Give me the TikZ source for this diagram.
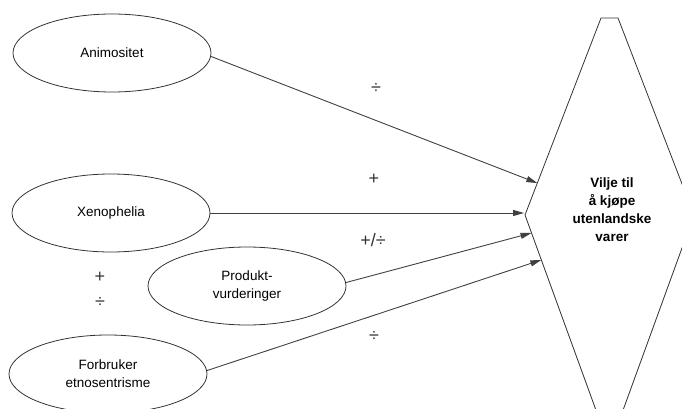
\documentclass[tikz,border=0pt]{standalone}
\usepackage{fontspec}
\setmainfont{Liberation Sans}
\usetikzlibrary{shapes.geometric,arrows.meta,calc}
\begin{document}
\begin{tikzpicture}[x=1pt,y=-1pt,
  ink/.style={draw=black!80, line width=0.8pt},
  factor/.style={ellipse, ink, fill=white, minimum width=198pt, minimum height=78pt,
    inner sep=0pt, align=center, font=\fontsize{13.5}{18}\selectfont},
  link/.style={draw=black!75, line width=0.9pt, -{Triangle[length=11pt,width=6pt]}},
  sign/.style={font=\fontsize{18}{20}\selectfont, text=black!80, inner sep=0pt},
  target/.style={align=center, inner sep=0pt, font=\bfseries\fontsize{13.5}{18}\selectfont}
]
\useasboundingbox (0,0) rectangle (682,409);

% corner points of the outcome shape (a tall hexagon, running past the lower edge)
\coordinate (vt) at (601,18);
\coordinate (vtr) at (618,18);
\coordinate (vr) at (694,215);
\coordinate (vbr) at (618,424);
\coordinate (vb) at (601,424);
\coordinate (vl) at (525,215);
\begin{scope}
  \clip (0,0) rectangle (682,409);
  \draw[ink] (vt) -- (vtr) -- (vr) -- (vbr) -- (vb) -- (vl) -- cycle;
\end{scope}
\node[target] (vilje) at (612,210) {Vilje til\\å kjøpe\\utenlandske\\varer};

% antecedent factors
\node[factor] (anim) at (112,53) {Animositet};
\node[factor] (xeno) at (111,213) {Xenophelia};
\node[factor] (prod) at (247,286) {Produkt-\\vurderinger};
\node[factor] (forb) at (108,374) {Forbruker\\etnosentrisme};

% effects on the outcome
\draw[link] (anim.-2) -- ($(vt)!0.838!(vl)$);
\draw[link] (xeno.east) -- ($(vl)+(-1,-2)$);
\draw[link] (prod.2) -- ($(vl)!0.086!(vb)$);
\draw[link] (forb.2) -- ($(vl)!0.215!(vb)$);

% signs of the effects
\node[sign] (s1) at (376,88) {÷};
\node[sign] (s2) at (374,179) {+};
\node[sign] (s3) at (373,240) {+/÷};
\node[sign] (s4) at (100,277) {+};
\node[sign] (s5) at (100,302) {÷};
\node[sign] (s6) at (374,336) {÷};
\end{tikzpicture}
\end{document}
